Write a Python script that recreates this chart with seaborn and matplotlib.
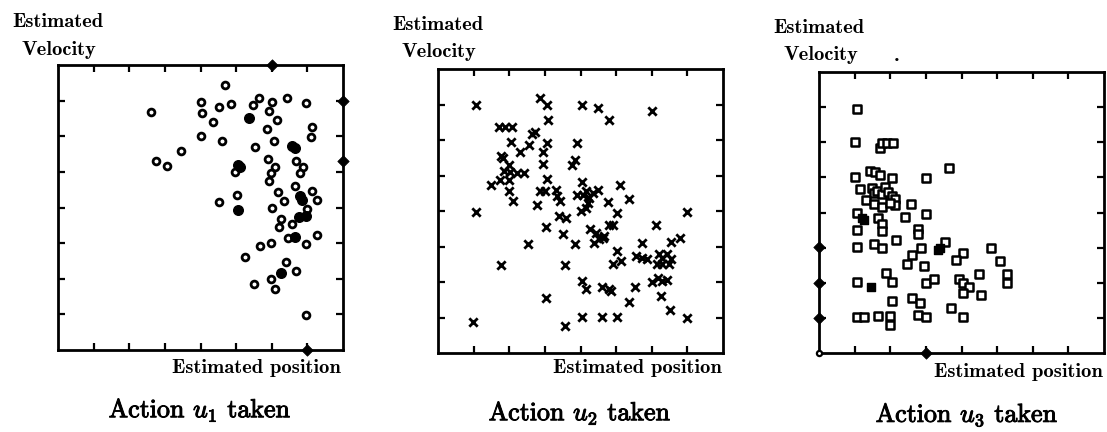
import matplotlib
matplotlib.use("Agg")
import matplotlib.pyplot as plt
import matplotlib.patheffects as pe
import seaborn as sns

sns.set_style("white")
plt.rcParams['mathtext.fontset'] = 'cm'

# ---------------- data (grid units: 0..8 on both axes) ----------------
# Panel 1: action u1 (open circles, filled overlaps, edge diamonds)
p1_x = [4.69, 2.61, 4.0, 4.04, 4.53, 4.86, 4.36, 4.0, 4.6, 3.44, 2.75, 3.05,
        5.48, 5.65, 6.0, 5.93, 6.14, 6.44, 6.97, 5.86, 6.05, 5.52, 7.13, 7.11,
        4.98, 5.89, 6.09, 5.98, 5.91, 6.67, 6.87, 6.8, 6.65, 6.18, 6.34, 7.13,
        7.27, 6.0, 6.99, 5.02, 4.53, 6.25, 6.2, 6.57, 6.45, 7.27, 6.96, 5.99,
        5.67, 5.26, 6.39, 5.99, 6.69, 5.49, 6.09, 6.96]
p1_y = [7.45, 6.69, 6.96, 6.64, 6.83, 6.9, 6.4, 6.0, 5.86, 5.6, 5.3, 5.17,
        6.87, 7.06, 6.96, 6.71, 6.46, 7.07, 6.94, 6.19, 5.86, 5.7, 6.26, 5.98,
        5.0, 5.35, 5.14, 4.96, 4.73, 5.31, 5.14, 4.97, 4.6, 4.44, 4.19, 4.47,
        4.2, 4.0, 3.95, 4.36, 4.16, 3.69, 3.46, 3.53, 3.13, 3.23, 2.97, 2.99,
        2.93, 2.6, 2.48, 2.0, 2.22, 1.85, 1.71, 0.99]
p1_fx = [5.35, 6.57, 6.64, 5.04, 5.1, 6.8, 6.85, 5.04, 6.76, 6.95, 6.65, 6.25]
p1_fy = [6.5, 5.72, 5.66, 5.2, 5.15, 4.33, 4.2, 3.93, 3.72, 3.76, 3.16, 2.15]
p1_ex = [6.0, 8.0, 8.0, 7.0]
p1_ey = [8.0, 7.0, 5.3, 0.0]

# Panel 2: action u2 (crosses)
p2_x = [1.08, 2.86, 3.05, 4.04, 4.48, 4.81, 6.0, 3.09, 1.7, 1.88, 2.07, 2.63,
        2.72, 2.05, 2.56, 2.3, 2.95, 3.05, 3.91, 3.85, 3.77, 2.95, 1.76, 1.82,
        2.0, 1.86, 2.23, 2.41, 2.02, 2.0, 1.75, 1.49, 2.0, 2.1, 2.86, 3.0,
        3.05, 2.77, 1.08, 3.3, 3.34, 3.42, 4.04, 3.91, 4.07, 4.16, 4.25, 4.35,
        4.48, 4.2, 4.16, 4.02, 4.76, 5.11, 5.35, 5.02, 3.4, 3.58, 3.03, 3.51,
        4.28, 4.44, 4.62, 4.39, 4.53, 4.67, 4.81, 4.9, 3.85, 2.54, 5.02, 4.9,
        5.13, 5.72, 6.11, 6.99, 5.55, 5.72, 5.88, 6.2, 6.3, 6.43, 6.53, 6.48,
        6.3, 6.16, 6.53, 6.78, 1.76, 3.56, 4.04, 4.16, 4.6, 4.81, 4.86, 5.53,
        6.0, 6.18, 6.3, 6.43, 6.27, 5.37, 6.5, 3.03, 0.98, 3.56, 4.04, 4.6,
        5.02, 6.99]
p2_y = [6.98, 7.17, 7.0, 7.0, 6.89, 6.56, 6.82, 6.56, 6.36, 6.36, 6.36, 6.18,
        6.22, 5.93, 5.85, 5.65, 5.66, 5.92, 5.92, 5.44, 5.29, 5.31, 5.55, 5.48,
        5.29, 5.13, 5.07, 5.07, 5.09, 4.88, 4.86, 4.74, 4.56, 4.27, 4.56, 4.56,
        4.91, 4.18, 3.98, 4.58, 4.43, 4.27, 4.83, 4.46, 4.46, 4.55, 4.36, 4.5,
        4.6, 4.22, 4.08, 3.99, 4.25, 4.72, 4.34, 3.93, 3.85, 3.8, 3.55, 3.34,
        3.48, 3.39, 3.25, 3.11, 3.2, 3.29, 3.6, 3.6, 3.06, 3.06, 2.87, 2.51,
        2.6, 3.1, 3.6, 3.97, 2.73, 2.68, 2.66, 2.8, 2.68, 2.78, 2.64, 2.5,
        2.52, 2.52, 3.12, 3.24, 2.47, 2.49, 2.03, 1.79, 1.87, 1.79, 1.75, 1.87,
        2.0, 2.12, 2.03, 2.05, 1.61, 1.45, 1.21, 1.56, 0.86, 0.75, 1.02, 1.02,
        1.02, 1.0]

# Panel 3: action u3 (squares, filled overlaps, edge diamonds)
p3_x = [1.06, 1.0, 1.71, 1.76, 1.92, 2.08, 3.66, 1.0, 1.44, 1.57, 1.71, 2.06,
        2.99, 1.16, 1.31, 1.48, 1.53, 1.62, 1.76, 1.53, 1.76, 1.85, 1.94, 2.04,
        2.13, 2.13, 1.99, 2.59, 1.06, 1.67, 1.76, 1.76, 2.41, 2.99, 1.06, 2.78,
        2.78, 2.15, 1.06, 1.55, 1.77, 2.87, 3.54, 4.03, 3.84, 4.83, 5.09, 2.61,
        2.47, 2.94, 4.49, 5.28, 5.28, 1.88, 2.06, 1.06, 3.0, 3.22, 3.92, 4.03,
        4.21, 4.03, 4.56, 2.06, 2.62, 2.84, 3.7, 1.06, 1.25, 1.65, 2.0, 2.0,
        2.78, 3.0, 4.03]
p3_y = [6.96, 6.0, 5.83, 5.97, 5.98, 5.98, 5.27, 5.0, 5.18, 5.14, 5.07, 4.97,
        4.97, 4.67, 4.35, 4.7, 4.55, 4.62, 4.52, 4.25, 4.15, 4.72, 4.58, 4.48,
        4.38, 4.2, 4.28, 4.25, 3.99, 3.85, 3.66, 3.48, 3.87, 3.96, 3.5, 3.54,
        3.4, 3.22, 3.03, 3.1, 2.98, 2.98, 3.15, 2.84, 2.66, 2.99, 2.61, 2.78,
        2.54, 2.48, 2.26, 2.24, 2.0, 2.28, 2.01, 2.03, 2.0, 2.12, 2.12, 1.98,
        1.89, 1.7, 1.65, 1.49, 1.56, 1.42, 1.28, 1.03, 1.02, 1.05, 1.05, 0.81,
        1.09, 1.02, 1.02]
p3_fx = [1.25, 3.33, 3.4, 1.45, 1.22]
p3_fy = [3.8, 2.92, 2.98, 1.89, 3.84]
p3_ex = [0.0, 0.0, 0.0, 3.0]
p3_ey = [3.03, 2.0, 1.0, 0.0]
p3_cx = [0.0]
p3_cy = [0.0]

grid_ticks = [1, 2, 3, 4, 5, 6, 7]
titles = [r"Action $u_1$ taken", r"Action $u_2$ taken", r"Action $u_3$ taken"]
ylab = ["Estimated", "Velocity"]
xlab = "Estimated position"

# ---------------- figure ----------------
W, H = 1107, 432
fig = plt.figure(figsize=(W / 100, H / 100), dpi=100)
fig.patch.set_facecolor("white")

boxes = [(58, 343, 65, 350), (438, 723, 69, 353), (819, 1104, 72, 353)]
axes = []
for (l, r, t, b) in boxes:
    ax = fig.add_axes([l / W, (H - b) / H, (r - l) / W, (b - t) / H])
    ax.set_xlim(0, 8)
    ax.set_ylim(0, 8)
    ax.set_xticks(grid_ticks)
    ax.set_yticks(grid_ticks)
    ax.set_xticklabels([])
    ax.set_yticklabels([])
    ax.tick_params(direction="in", length=5, width=1.6, top=True, right=True,
                   bottom=True, left=True, color="black")
    for s in ax.spines.values():
        s.set_linewidth(2.0)
        s.set_color("black")
    axes.append(ax)

ax1, ax2, ax3 = axes

# Panel 1
sns.scatterplot(x=p1_x, y=p1_y, ax=ax1, marker="o", s=24, facecolor="white",
                edgecolor="black", linewidth=2.0, zorder=3)
sns.scatterplot(x=p1_fx, y=p1_fy, ax=ax1, marker="o", s=48, color="black",
                edgecolor="black", linewidth=1.0, zorder=4)
sns.scatterplot(x=p1_ex, y=p1_ey, ax=ax1, marker="D", s=34, color="black",
                edgecolor="black", linewidth=0.5, zorder=5, clip_on=False)

# Panel 2
sns.scatterplot(x=p2_x, y=p2_y, ax=ax2, marker="x", s=36, color="black",
                linewidth=2.0, zorder=3)

# Panel 3
sns.scatterplot(x=p3_x, y=p3_y, ax=ax3, marker="s", s=26, facecolor="white",
                edgecolor="black", linewidth=1.8, zorder=3)
sns.scatterplot(x=p3_fx, y=p3_fy, ax=ax3, marker="s", s=36, color="black",
                edgecolor="black", linewidth=1.0, zorder=4)
sns.scatterplot(x=p3_ex, y=p3_ey, ax=ax3, marker="D", s=34, color="black",
                edgecolor="black", linewidth=0.5, zorder=5, clip_on=False)
sns.scatterplot(x=p3_cx, y=p3_cy, ax=ax3, marker="o", s=14, facecolor="white",
                edgecolor="black", linewidth=1.6, zorder=5, clip_on=False)

for ax in axes:
    ax.set_xlabel("")
    ax.set_ylabel("")

# ---------------- texts (pixel positions) ----------------
def px(x, y):
    return x / W, 1 - y / H

label_font = dict(family="cmb10", fontsize=14.8, color="black")
title_font = dict(family="cmr10", fontsize=18.7, color="black")
thick = [pe.withStroke(linewidth=0.7, foreground="black")]

ylab_pos = [((12, 22), (22, 50)), ((392, 25), (402, 52)), ((773, 28), (783, 55))]
xlab_pos = [(341, 368), (722, 368), (1103, 372)]
title_pos = [(200, 410), (580, 413), (967, 415)]

for i in range(3):
    (a, b) = ylab_pos[i]
    fig.text(*px(*a), ylab[0], ha="left", va="center", **label_font)
    fig.text(*px(*b), ylab[1], ha="left", va="center", **label_font)
    fig.text(*px(*xlab_pos[i]), xlab, ha="right", va="center", **label_font)
    fig.text(*px(*title_pos[i]), titles[i], ha="center", va="center",
             path_effects=thick, **title_font)

# stray dot near the third panel's label
fig.text(*px(897, 56), ".", ha="center", va="center", **label_font)

fig.savefig("out.png", dpi=100, facecolor="white")
